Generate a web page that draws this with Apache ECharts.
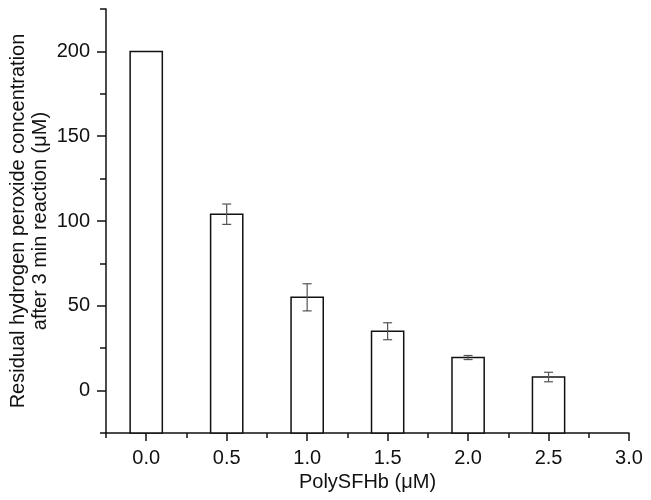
<!DOCTYPE html>
<html>
<head>
<meta charset="utf-8">
<script src="https://cdn.jsdelivr.net/npm/echarts@6/dist/echarts.min.js"></script>
<style>
  html, body { margin: 0; padding: 0; background: #fff; }
  #main { width: 651px; height: 500px; }
</style>
</head>
<body>
<div id="main"></div>
<script>
// data
const doses = [0, 0.5, 1.0, 1.5, 2.0, 2.5];
const residual = [200, 104, 55, 35, 19.5, 8];
const errors = [0, 6, 8, 5, 1.2, 2.8];
const xTicks = [0, 0.5, 1.0, 1.5, 2.0, 2.5, 3.0];
const yTicks = [0, 50, 100, 150, 200];

const yMin = -25, yMax = 225;
const xMin = -0.25, xMax = 3.0;
const barHalf = 0.1;
const font = 'Liberation Sans, Arial, sans-serif';

const myChart = echarts.init(document.getElementById('main'));

const barData = doses.map((d, i) => [d, residual[i], errors[i]]);

myChart.setOption({
  animation: false,
  grid: { left: 106, right: 22, top: 9, bottom: 67, containLabel: false, outerBoundsMode: 'none' },
  xAxis: [
    {
      type: 'value', min: xMin, max: xMax,
      name: 'PolySFHb (μM)', nameLocation: 'middle', nameGap: 38,
      nameTextStyle: { fontSize: 20, color: '#111', fontFamily: font },
      axisLine: { onZero: false, lineStyle: { color: '#111', width: 1.5 } },
      axisTick: { customValues: xTicks, length: 8, lineStyle: { color: '#111', width: 1.5 } },
      axisLabel: {
        customValues: xTicks, margin: 15, fontSize: 20, color: '#111', fontFamily: font,
        formatter: v => v.toFixed(1)
      },
      splitLine: { show: false }
    },
    {
      // minor ticks
      type: 'value', min: xMin, max: xMax, interval: 0.25, position: 'bottom',
      axisLine: { show: false, onZero: false },
      axisTick: { length: 5, lineStyle: { color: '#111', width: 1.5 } },
      axisLabel: { show: false },
      splitLine: { show: false }
    }
  ],
  yAxis: [
    {
      type: 'value', min: yMin, max: yMax,
      name: 'Residual hydrogen peroxide concentration\nafter 3 min reaction (μM)',
      nameLocation: 'middle', nameGap: 55, nameMoveOverlap: false,
      nameTextStyle: { fontSize: 20, color: '#111', fontFamily: font, lineHeight: 22 },
      axisLine: { show: true, onZero: false, lineStyle: { color: '#111', width: 1.5 } },
      axisTick: { show: true, customValues: yTicks, length: 9, lineStyle: { color: '#111', width: 1.5 } },
      axisLabel: { customValues: yTicks, margin: 16, fontSize: 20, color: '#111', fontFamily: font },
      splitLine: { show: false }
    },
    {
      // minor ticks
      type: 'value', min: yMin, max: yMax, interval: 25, position: 'left',
      axisLine: { show: false, onZero: false },
      axisTick: { show: true, length: 6, lineStyle: { color: '#111', width: 1.5 } },
      axisLabel: { show: false },
      splitLine: { show: false }
    }
  ],
  series: [
    {
      type: 'custom',
      xAxisIndex: 0, yAxisIndex: 0,
      data: barData,
      renderItem: (params, api) => {
        const x = api.value(0), v = api.value(1), e = api.value(2);
        const p1 = api.coord([x - barHalf, v]);
        const p2 = api.coord([x + barHalf, yMin]);
        const children = [{
          type: 'rect',
          shape: { x: p1[0], y: p1[1], width: p2[0] - p1[0], height: p2[1] - p1[1] },
          style: { fill: '#fff', stroke: '#111', lineWidth: 1.5 }
        }];
        if (e > 0) {
          const top = api.coord([x, v + e]);
          const bot = api.coord([x, v - e]);
          const cap = 4.5;
          const st = { stroke: '#555', lineWidth: 1.2 };
          children.push(
            { type: 'line', shape: { x1: top[0], y1: top[1], x2: bot[0], y2: bot[1] }, style: st },
            { type: 'line', shape: { x1: top[0] - cap, y1: top[1], x2: top[0] + cap, y2: top[1] }, style: st },
            { type: 'line', shape: { x1: bot[0] - cap, y1: bot[1], x2: bot[0] + cap, y2: bot[1] }, style: st }
          );
        }
        return { type: 'group', children };
      }
    }
  ]
});
</script>
</body>
</html>
